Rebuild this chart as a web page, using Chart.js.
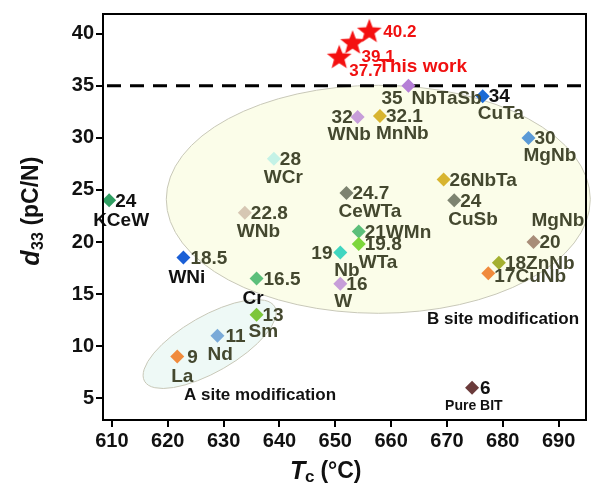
<!DOCTYPE html>
<html><head><meta charset="utf-8">
<script src="https://cdn.jsdelivr.net/npm/chart.js@4.4.0/dist/chart.umd.min.js"></script>
<style>body{margin:0;background:#fff}#wrap{width:600px;height:490px}</style>
</head><body><div id="wrap"><canvas id="c"></canvas></div>
<script>
// Data
const tcValues  = [622.8, 635.9, 609.5, 674.5, 621.7, 628.9, 635.9, 663.1, 676.4, 654.0, 658.0, 684.6, 639.0, 669.4, 652.0, 671.3, 633.8, 654.2, 654.2, 650.9, 650.9, 685.5, 679.3, 677.4];
const d33Values = [18.5, 16.5, 24, 6, 9, 11, 13, 35, 34, 32, 32.1, 30, 28, 26, 24.7, 24, 22.8, 21, 19.8, 19, 16, 20, 18, 17];
const pointColors = ['#1a5fd6','#5cbf7a','#2f9e62','#6b3b3b','#f08a3c','#7aaad8','#7cc63a','#b57fd6','#1a6ad6','#c79ed9','#d8b530','#5b9ad6','#c4f2e6','#d8b530','#7d8370','#7d8370','#d6c7b3','#5cbf7a','#7cd63a','#40d6c0','#c79ed9','#a88d78','#a4b030','#f08a3c'];
const starTc  = [650.7, 653.1, 656.1];
const starD33 = [37.7, 39.1, 40.2];
const xTicks = [610, 620, 630, 640, 650, 660, 670, 680, 690];
const yTicks = [5, 10, 15, 20, 25, 30, 35, 40];

// labels: [lines, dx, dy, align, color]  (offsets in px from the marker)
const OL = '#44482f', BK = '#111';
const labelSpec = [
  [['18.5'], 7, 1, 'left', OL], [['WNi'], -15, 20, 'left', BK],
  [['16.5'], 7, 1, 'left', OL], [['Cr'], -14, 20, 'left', BK],
  [['24'], 6, 1, 'left', BK], [['KCeW'], -16, 20, 'left', BK],
  [['6'], 8, 1, 'left', BK], [['Pure BIT'], -27, 18, 'left', BK, 14],
  [['9'], 10, 1, 'left', OL], [['La'], -6, 20, 'left', OL],
  [['11'], 8, 1, 'left', OL], [['Nd'], -10, 19, 'left', OL],
  [['13'], 6, 1, 'left', OL], [['Sm'], -8, 17, 'left', OL],
  [['35'], -27, 13, 'left', OL], [['NbTaSb'], 3, 13, 'left', OL],
  [['34'], 6, 1, 'left', BK], [['CuTa'], -5, 18, 'left', OL],
  [['32'], -26, 1, 'left', OL], [['WNb'], -30, 18, 'left', OL],
  [['32.1'], 6, 1, 'left', OL], [['MnNb'], -4, 18, 'left', OL],
  [['30'], 6, 1, 'left', OL], [['MgNb'], -5, 18, 'left', OL],
  [['28'], 6, 1, 'left', OL], [['WCr'], -10, 19, 'left', OL],
  [['26NbTa'], 6, 1, 'left', OL], [[''], 0, 0, 'left', OL],
  [['24.7'], 6, 1, 'left', OL], [['CeWTa'], -8, 19, 'left', OL],
  [['24'], 6, 1, 'left', OL], [['CuSb'], -6, 19, 'left', OL],
  [['22.8'], 6, 1, 'left', OL], [['WNb'], -8, 19, 'left', OL],
  [['21WMn'], 6, 1, 'left', OL], [[''], 0, 0, 'left', OL],
  [['19.8'], 6, 1, 'left', OL], [['WTa'], 0, 19, 'left', OL],
  [['19'], -29, 1, 'left', OL], [['Nb'], -6, 18, 'left', OL],
  [['16'], 6, 1, 'left', OL], [['W'], -6, 18, 'left', OL],
  [['20'], 6, 1, 'left', OL], [['MgNb'], -2, -21, 'left', OL],
  [['18ZnNb'], 6, 1, 'left', OL], [[''], 0, 0, 'left', OL],
  [['17CuNb'], 6, 4, 'left', OL], [[''], 0, 0, 'left', OL]
];

const FONT = '"Liberation Sans", Arial, sans-serif';

// filled red star image
function makeStar(r) {
  const c = document.createElement('canvas');
  c.width = c.height = r * 2 + 2;
  const g = c.getContext('2d');
  g.beginPath();
  for (let k = 0; k < 10; k++) {
    const rr = k % 2 ? r * 0.42 : r;
    const ang = -Math.PI / 2 + k * Math.PI / 5;
    g.lineTo(r + 1 + rr * Math.cos(ang), r + 1 + rr * Math.sin(ang));
  }
  g.closePath(); g.fillStyle = '#f41010'; g.fill();
  return c;
}

const decor = {
  id: 'decor',
  beforeDatasetsDraw(chart) {
    const { ctx, scales: { x, y }, chartArea: a } = chart;
    ctx.save();
    // B site ellipse
    ctx.beginPath();
    ctx.ellipse(x.getPixelForValue(657.7), y.getPixelForValue(24.1), 212, 114, 0, 0, Math.PI * 2);
    ctx.fillStyle = '#fbfde9'; ctx.fill();
    ctx.strokeStyle = '#c8c8b8'; ctx.lineWidth = 1; ctx.stroke();
    // A site ellipse
    ctx.beginPath();
    ctx.ellipse(x.getPixelForValue(627.5), y.getPixelForValue(10.2), 75, 28, -0.52, 0, Math.PI * 2);
    ctx.fillStyle = '#eef9f6'; ctx.fill(); ctx.stroke();
    // 35 dashed line
    const yy = y.getPixelForValue(35);
    ctx.beginPath(); ctx.setLineDash([14, 9]); ctx.lineWidth = 3; ctx.strokeStyle = '#000';
    ctx.moveTo(a.left + 4, yy); ctx.lineTo(a.right, yy); ctx.stroke();
    ctx.restore();
  },
  afterDatasetsDraw(chart) {
    const { ctx, chartArea: a } = chart;
    ctx.save();
    ctx.textBaseline = 'middle';
    const meta = chart.getDatasetMeta(0);
    meta.data.forEach((pt, i) => {
      [labelSpec[2 * i], labelSpec[2 * i + 1]].forEach(s => {
        if (!s[0][0]) return;
        ctx.font = 'bold ' + (s[5] || 19) + 'px ' + FONT;
        ctx.fillStyle = s[4]; ctx.textAlign = s[3];
        ctx.fillText(s[0][0], pt.x + s[1], pt.y + s[2]);
      });
    });
    // this work labels
    const sm = chart.getDatasetMeta(1).data;
    ctx.fillStyle = '#f01010'; ctx.font = 'bold 17px ' + FONT; ctx.textAlign = 'left';
    ctx.fillText('37.7', sm[0].x + 10, sm[0].y + 14);
    ctx.fillText('39.1', sm[1].x + 9, sm[1].y + 14);
    ctx.fillText('40.2', sm[2].x + 14, sm[2].y + 1);
    ctx.font = 'bold 19px ' + FONT;
    ctx.fillText('This work', sm[2].x + 9, sm[2].y + 35);
    ctx.fillStyle = '#111'; ctx.font = 'bold 17px ' + FONT;
    ctx.fillText('B site modification', 427, 319);
    ctx.fillText('A site modification', 184, 395);
    // axis titles
    ctx.font = 'bold italic 25px ' + FONT; ctx.textAlign = 'left';
    ctx.fillText('T', 290, 472);
    ctx.font = 'bold 17px ' + FONT; ctx.fillText('c', 305, 477);
    ctx.font = 'bold 23px ' + FONT; ctx.fillText(' (°C)', 314, 472);
    ctx.translate(32, 212); ctx.rotate(-Math.PI / 2);
    ctx.textAlign = 'center';
    ctx.font = 'bold italic 25px ' + FONT; ctx.fillText('d', -46, 0);
    ctx.font = 'bold 16px ' + FONT; ctx.fillText('33', -29, 7);
    ctx.font = 'bold 23px ' + FONT; ctx.textAlign = 'left'; ctx.fillText(' (pC/N)', -20, 0);
    ctx.restore();
    // frame
    ctx.save(); ctx.strokeStyle = '#000'; ctx.lineWidth = 2;
    ctx.strokeRect(a.left, a.top, a.right - a.left, a.bottom - a.top); ctx.restore();
  }
};

new Chart(document.getElementById('c'), {
  type: 'scatter',
  data: {
    datasets: [{
      data: tcValues.map((v, i) => ({ x: v, y: d33Values[i] })),
      pointStyle: 'rectRot', pointRadius: 7, pointHoverRadius: 7,
      backgroundColor: pointColors, borderWidth: 0
    }, {
      data: starTc.map((v, i) => ({ x: v, y: starD33[i] })),
      pointStyle: makeStar(13), pointRadius: 13
    }]
  },
  options: {
    responsive: true, maintainAspectRatio: false, animation: false,
    layout: { padding: { top: 0, right: 2, left: 0, bottom: 0 } },
    plugins: { legend: { display: false }, tooltip: { enabled: false } },
    scales: {
      x: {
        min: 608.4, max: 694.9,
        afterBuildTicks: s => { s.ticks = xTicks.map(v => ({ value: v })); },
        afterFit: s => { s.height = 70; },
        grid: { drawOnChartArea: false, tickLength: 7, color: '#000', lineWidth: 2 },
        border: { color: '#000', width: 2 },
        ticks: { color: '#111', font: { family: FONT, size: 20, weight: 'bold' }, padding: 2 }
      },
      y: {
        min: 2.9, max: 41.9,
        afterBuildTicks: s => { s.ticks = yTicks.map(v => ({ value: v })); },
        afterFit: s => { s.width = 103; },
        grid: { drawOnChartArea: false, tickLength: 7, color: '#000', lineWidth: 2 },
        border: { color: '#000', width: 2 },
        ticks: { color: '#111', font: { family: FONT, size: 20, weight: 'bold' }, padding: 2 }
      }
    }
  },
  plugins: [decor]
});
</script></body></html>
